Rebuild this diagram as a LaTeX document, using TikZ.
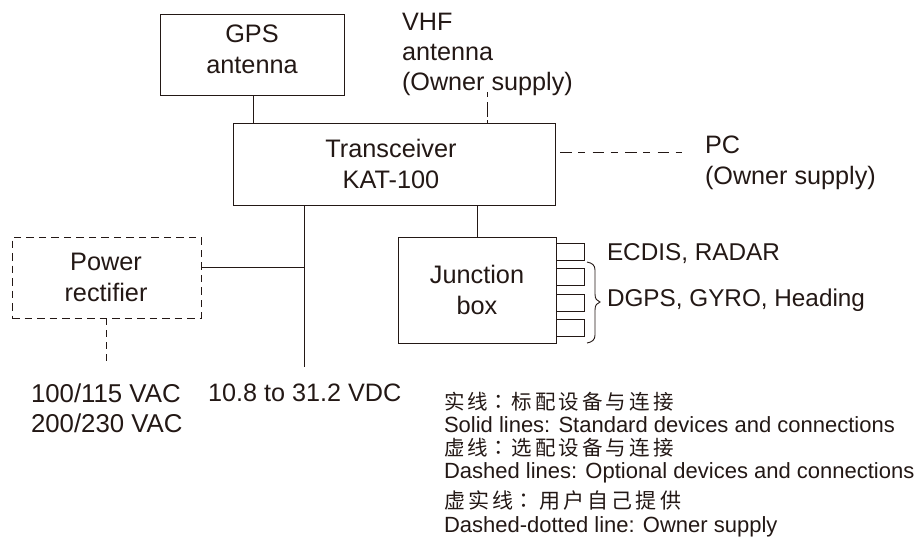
\documentclass[tikz,border=0pt]{standalone}
\usepackage{fontspec}
\setmainfont{Liberation Sans}
\newfontfamily\cjk[LetterSpace=15]{Noto Sans CJK SC}
\newfontfamily\cjkp{Noto Sans CJK TC}
\newcommand{\cc}{{\cjkp：}}
\definecolor{ink}{HTML}{231815}
\begin{document}
\begin{tikzpicture}[x=1pt,y=-1pt,
  every node/.style={inner sep=0pt,outer sep=0pt,text=ink},
  devbox/.style={draw=ink,line width=0.9pt,anchor=north west},
  optbox/.style={draw=ink,line width=0.9pt,dash pattern=on 7.5pt off 5pt,anchor=north west},
  port/.style={draw=ink,line width=0.9pt,anchor=north west,minimum width=28pt,minimum height=17pt},
  wire/.style={draw=ink,line width=0.9pt},
  optwire/.style={draw=ink,line width=0.9pt,dash pattern=on 7pt off 5pt},
  ownwire/.style={draw=ink,line width=0.9pt,dash pattern=on 11.5pt off 6.5pt on 7pt off 7.5pt},
  ownwirev/.style={draw=ink,line width=0.9pt,dash pattern=on 5pt off 5pt on 15pt off 3pt on 5pt},
  lab/.style={font=\fontsize{25.3}{31}\selectfont,align=center},
  lableft/.style={font=\fontsize{25.2}{31}\selectfont,align=left,anchor=west},
  labport/.style={font=\fontsize{24.3}{30}\selectfont,align=left,anchor=west},
  labac/.style={font=\fontsize{25.8}{30}\selectfont,align=left,anchor=west},
  legen/.style={font=\fontsize{22}{24}\selectfont,anchor=west},
  legcn/.style={font=\cjk\fontsize{20.5}{24}\selectfont,anchor=west},
  legcnb/.style={font=\cjk\fontsize{21}{24}\selectfont,anchor=west}]
\useasboundingbox (0,0) rectangle (917,542);
\node[devbox,minimum width=184pt,minimum height=81pt] (gps) at (160,14) {};
\node[lab] (gpst) at (252,49.5) {GPS\\antenna};
\node[devbox,minimum width=322pt,minimum height=82pt] (trx) at (233,123) {};
\node[lab] (trxt) at (391,163.5) {Transceiver\\KAT-100};
\node[devbox,minimum width=158pt,minimum height=106pt] (jb) at (398,237) {};
\node[lab] (jbt) at (477,290) {Junction\\box};
\node[optbox,minimum width=189pt,minimum height=81pt] (rect) at (12,237) {};
\node[lab] (rectt) at (106,277) {Power\\rectifier};
\node[port] (p1) at (556,243) {};
\node[port] (p2) at (556,268.5) {};
\node[port] (p3) at (556,294) {};
\node[port] (p4) at (556,319.5) {};
\node[lableft,font=\fontsize{25.2}{30}\selectfont] (vhf) at (402,54) {VHF\\antenna\\(Owner supply)};
\node[lableft] (pc) at (705,162.5) {PC\\(Owner supply)};
\node[labport] (ecdis) at (607,254) {ECDIS, RADAR};
\node[labport] (dgps) at (607,300) {DGPS, GYRO, Heading};
\node[labac] (ac) at (31,408) {100/115 VAC\\200/230 VAC};
\node[lableft] (dc) at (208,393) {10.8 to 31.2 VDC};
\node[legcn] (l1) at (444,401.5) {实线\cc\hspace{3pt}标配设备与连接};
\node[legen] (l2) at (444,424.5) {Solid lines: Standard devices and connections};
\node[legcn] (l3) at (444,448) {虚线\cc\hspace{3pt}选配设备与连接};
\node[legen] (l4) at (444,472.5) {Dashed lines: Optional devices and connections};
\node[legcnb] (l5) at (444,500.5) {虚实线\cc\hspace{5pt}用户自己提供};
\node[legen] (l6) at (444,527) {Dashed-dotted line: Owner supply};
\coordinate (gpsb) at (253,95);
\coordinate (trxg) at (253,123);
\coordinate (trxj) at (477,205);
\coordinate (jbt2) at (477,237);
\coordinate (trxb) at (304,205);
\coordinate (busend) at (304,367);
\coordinate (busj) at (304,267);
\coordinate (rectr) at (201,267);
\coordinate (rectb) at (106,318);
\coordinate (acw) at (106,365);
\coordinate (vhfe) at (487,92);
\coordinate (trxv) at (487,124);
\coordinate (pcs) at (560,152.5);
\coordinate (pce) at (682,152.5);
\draw[wire] (gpsb) -- (trxg);
\draw[wire] (trxj) -- (jbt2);
\draw[wire] (trxb) -- (busend);
\draw[wire] (rectr) -- (busj);
\draw[optwire] (rectb) -- (acw);
\draw[ownwirev] (vhfe) -- (trxv);
\draw[ownwire] (pcs) -- (pce);
\draw[draw=ink,line width=0.9pt] (587,262) .. controls (592,263) and (595,265) .. (595,270) -- (595,294) .. controls (595,299) and (597,301) .. (600,302) .. controls (597,303) and (595,305) .. (595,310) -- (595,335) .. controls (595,340) and (592,342) .. (587,343);
\end{tikzpicture}
\end{document}
